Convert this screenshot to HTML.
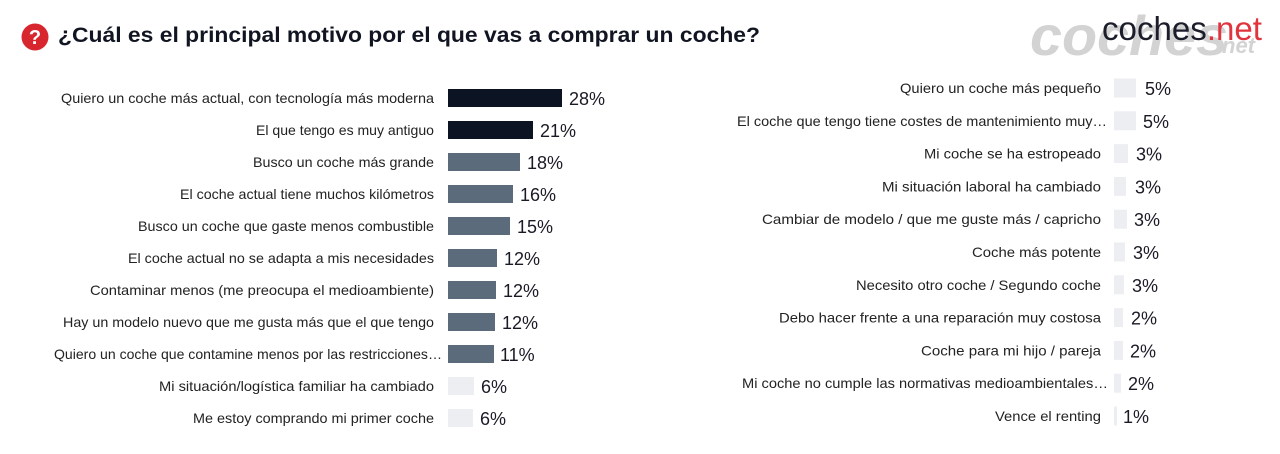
<!DOCTYPE html>
<html><head><meta charset="utf-8"><style>
html,body{margin:0;padding:0;background:#fff;}
svg{display:block;}
.lb{font-family:"Liberation Sans",sans-serif;font-size:14px;fill:#222;}
.pc{font-family:"Liberation Sans",sans-serif;font-size:18px;fill:#1a1a26;}
</style></head><body>
<svg width="1280" height="454" viewBox="0 0 1280 454" xmlns="http://www.w3.org/2000/svg">
<rect width="1280" height="454" fill="#fff"/>
<!-- watermark -->
<text x="1030" y="55" font-family="Liberation Sans,sans-serif" font-size="56" font-weight="bold" font-style="italic" fill="#d3d3d3" textLength="198" lengthAdjust="spacingAndGlyphs">coches</text>
<text x="1222" y="53" font-family="Liberation Sans,sans-serif" font-size="22" font-weight="bold" font-style="italic" fill="#d3d3d3">net</text>
<!-- logo -->
<text x="1102" y="40" font-family="Liberation Sans,sans-serif" font-size="33" fill="#1b1d2b" textLength="160" lengthAdjust="spacingAndGlyphs">coches<tspan fill="#e0343e">.net</tspan></text>
<!-- title -->
<circle cx="35" cy="37" r="13.5" fill="#d8262f"/>
<text x="35" y="44" text-anchor="middle" font-family="Liberation Sans,sans-serif" font-size="20" font-weight="bold" fill="#fff">?</text>
<text x="58" y="42" font-family="Liberation Sans,sans-serif" font-size="21" font-weight="bold" fill="#111522" textLength="702" lengthAdjust="spacingAndGlyphs">¿Cuál es el principal motivo por el que vas a comprar un coche?</text>

<!-- left chart -->
<g>
<rect x="448" y="89" width="114" height="18" fill="#0c1424"/>
<rect x="448" y="121" width="85" height="18" fill="#0c1424"/>
<rect x="448" y="153" width="72" height="18" fill="#5b6b7b"/>
<rect x="448" y="185" width="65" height="18" fill="#5b6b7b"/>
<rect x="448" y="217" width="62" height="18" fill="#5b6b7b"/>
<rect x="448" y="249" width="49" height="18" fill="#5b6b7b"/>
<rect x="448" y="281" width="48" height="18" fill="#5b6b7b"/>
<rect x="448" y="313" width="47" height="18" fill="#5b6b7b"/>
<rect x="448" y="345" width="46" height="18" fill="#5b6b7b"/>
<rect x="448" y="377" width="26" height="18" fill="#eceef2"/>
<rect x="448" y="409" width="25" height="18" fill="#eceef2"/>

<text class="lb" x="61" y="103" textLength="373" lengthAdjust="spacingAndGlyphs">Quiero un coche más actual, con tecnología más moderna</text>
<text class="lb" x="256" y="135" textLength="178" lengthAdjust="spacingAndGlyphs">El que tengo es muy antiguo</text>
<text class="lb" x="253" y="167" textLength="181" lengthAdjust="spacingAndGlyphs">Busco un coche más grande</text>
<text class="lb" x="180" y="199" textLength="254" lengthAdjust="spacingAndGlyphs">El coche actual tiene muchos kilómetros</text>
<text class="lb" x="138" y="231" textLength="296" lengthAdjust="spacingAndGlyphs">Busco un coche que gaste menos combustible</text>
<text class="lb" x="128" y="263" textLength="306" lengthAdjust="spacingAndGlyphs">El coche actual no se adapta a mis necesidades</text>
<text class="lb" x="90" y="295" textLength="344" lengthAdjust="spacingAndGlyphs">Contaminar menos (me preocupa el medioambiente)</text>
<text class="lb" x="63" y="327" textLength="371" lengthAdjust="spacingAndGlyphs">Hay un modelo nuevo que me gusta más que el que tengo</text>
<text class="lb" x="54" y="359" textLength="388" lengthAdjust="spacingAndGlyphs">Quiero un coche que contamine menos por las restricciones…</text>
<text class="lb" x="159" y="391" textLength="275" lengthAdjust="spacingAndGlyphs">Mi situación/logística familiar ha cambiado</text>
<text class="lb" x="193" y="423" textLength="241" lengthAdjust="spacingAndGlyphs">Me estoy comprando mi primer coche</text>

<text class="pc" x="569" y="105">28%</text>
<text class="pc" x="540" y="137">21%</text>
<text class="pc" x="527" y="169">18%</text>
<text class="pc" x="520" y="201">16%</text>
<text class="pc" x="517" y="233">15%</text>
<text class="pc" x="504" y="265">12%</text>
<text class="pc" x="503" y="297">12%</text>
<text class="pc" x="502" y="329">12%</text>
<text class="pc" x="500" y="361">11%</text>
<text class="pc" x="481" y="393">6%</text>
<text class="pc" x="480" y="425">6%</text>
</g>

<!-- right chart -->
<g>
<rect x="1114" y="78.5" width="22" height="19" fill="#eceef2"/>
<rect x="1114" y="111.3" width="22" height="19" fill="#eceef2"/>
<rect x="1114" y="144.1" width="14" height="19" fill="#eceef2"/>
<rect x="1114" y="176.9" width="12" height="19" fill="#eceef2"/>
<rect x="1114" y="209.7" width="13" height="19" fill="#eceef2"/>
<rect x="1114" y="242.5" width="11" height="19" fill="#eceef2"/>
<rect x="1114" y="275.3" width="10" height="19" fill="#eceef2"/>
<rect x="1114" y="308.1" width="9" height="19" fill="#eceef2"/>
<rect x="1114" y="340.9" width="9" height="19" fill="#eceef2"/>
<rect x="1114" y="373.7" width="7" height="19" fill="#eceef2"/>
<rect x="1114" y="406.5" width="3" height="19" fill="#eceef2"/>

<text class="lb" x="900" y="93" textLength="201" lengthAdjust="spacingAndGlyphs">Quiero un coche más pequeño</text>
<text class="lb" x="737" y="125.8" textLength="370" lengthAdjust="spacingAndGlyphs">El coche que tengo tiene costes de mantenimiento muy…</text>
<text class="lb" x="924" y="158.6" textLength="177" lengthAdjust="spacingAndGlyphs">Mi coche se ha estropeado</text>
<text class="lb" x="882" y="191.4" textLength="219" lengthAdjust="spacingAndGlyphs">Mi situación laboral ha cambiado</text>
<text class="lb" x="762" y="224.2" textLength="339" lengthAdjust="spacingAndGlyphs">Cambiar de modelo / que me guste más / capricho</text>
<text class="lb" x="972" y="257" textLength="129" lengthAdjust="spacingAndGlyphs">Coche más potente</text>
<text class="lb" x="856" y="289.8" textLength="245" lengthAdjust="spacingAndGlyphs">Necesito otro coche / Segundo coche</text>
<text class="lb" x="779" y="322.6" textLength="322" lengthAdjust="spacingAndGlyphs">Debo hacer frente a una reparación muy costosa</text>
<text class="lb" x="921" y="355.4" textLength="180" lengthAdjust="spacingAndGlyphs">Coche para mi hijo / pareja</text>
<text class="lb" x="742" y="388.2" textLength="366" lengthAdjust="spacingAndGlyphs">Mi coche no cumple las normativas medioambientales…</text>
<text class="lb" x="995" y="421" textLength="106" lengthAdjust="spacingAndGlyphs">Vence el renting</text>

<text class="pc" x="1145" y="95">5%</text>
<text class="pc" x="1143" y="127.8">5%</text>
<text class="pc" x="1136" y="160.6">3%</text>
<text class="pc" x="1135" y="193.4">3%</text>
<text class="pc" x="1134" y="226.2">3%</text>
<text class="pc" x="1133" y="259">3%</text>
<text class="pc" x="1132" y="291.8">3%</text>
<text class="pc" x="1131" y="324.6">2%</text>
<text class="pc" x="1130" y="357.4">2%</text>
<text class="pc" x="1128" y="390.2">2%</text>
<text class="pc" x="1123" y="423">1%</text>
</g>
</svg>
</body></html>
